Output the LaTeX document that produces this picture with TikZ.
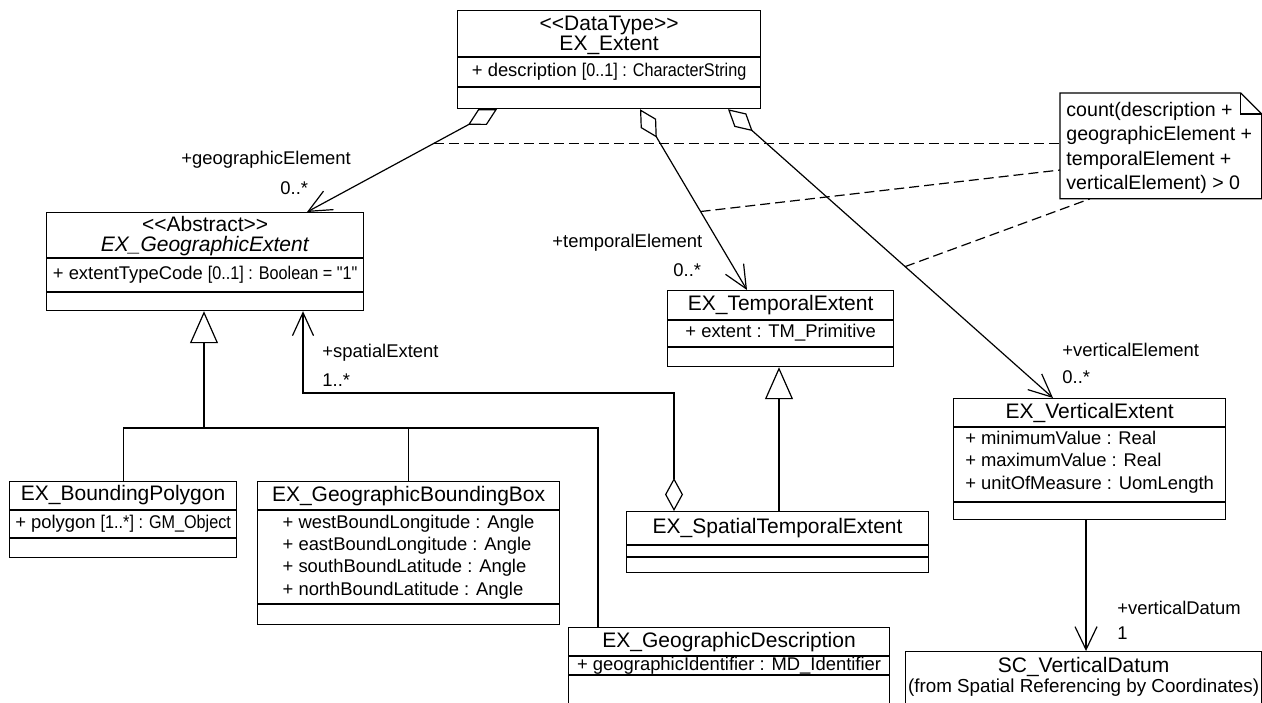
\documentclass[tikz,border=0pt]{standalone}
\usepackage{fontspec}
\usepackage{graphicx}
\newfontfamily\umlfont{Liberation Sans}
\usetikzlibrary{arrows.meta,calc}

\newcommand{\narrowtype}[1]{\scalebox{0.88}[1]{#1}}

\tikzset{
  classbox/.style = {draw, line width=0.6pt, inner sep=0pt, anchor=north west},
  classname/.style = {font=\umlfont\fontsize{10.5}{10}\selectfont, inner sep=0pt, align=center},
  attrs/.style = {font=\umlfont\fontsize{9.2}{11.2}\selectfont, inner sep=0pt, align=left},
  role/.style = {font=\umlfont\fontsize{9.2}{11}\selectfont, inner sep=0pt, anchor=west},
  notetext/.style = {font=\umlfont\fontsize{9.8}{12.2}\selectfont, inner sep=0pt, align=left, anchor=west},
  divider/.style = {line width=0.6pt},
  assoc/.style = {line width=0.6pt, {Diamond[open,length=16.5pt,width=9pt]}-{Straight Barb[length=11.5pt,width=10.5pt]}},
  nav/.style = {line width=0.6pt, -{Straight Barb[length=11.5pt,width=11pt]}},
  inherit/.style = {line width=0.6pt, -{Triangle[open,length=16pt,width=14pt]}},
  link/.style = {line width=0.6pt},
  constraint/.style = {line width=0.6pt, dash pattern=on 5pt off 2.5pt},
}

\begin{document}
\begin{tikzpicture}[x=0.5pt, y=-0.5pt]
  \useasboundingbox (0,0) rectangle (1262,702);
  \clip (0,0) rectangle (1262,702);

  % EX_Extent
  \node[classbox, minimum width=151.5pt, minimum height=49pt] (extent) at (457,10) {};
  \draw[divider] ($(extent.north west)+(0,47)$) -- ($(extent.north east)+(0,47)$);
  \draw[divider] ($(extent.north west)+(0,77)$) -- ($(extent.north east)+(0,77)$);
  \node[classname] (extentname) at ($(extent.north)+(0,25)$) {<<DataType>>\\EX\_Extent};
  \node[attrs] (extentattr) at ($(extent.north)+(0,62)$) {+ description \narrowtype{[0..1] : CharacterString}};

  % EX_GeographicExtent
  \node[classbox, minimum width=158.5pt, minimum height=49pt] (geo) at (46,212) {};
  \draw[divider] ($(geo.north west)+(0,46)$) -- ($(geo.north east)+(0,46)$);
  \draw[divider] ($(geo.north west)+(0,80)$) -- ($(geo.north east)+(0,80)$);
  \node[classname] (geoname) at ($(geo.north)+(0,24)$) {<<Abstract>>\\\textit{EX\_GeographicExtent}};
  \node[attrs] (geoattr) at ($(geo.north)+(0,63)$) {+ extentTypeCode \narrowtype{[0..1] : Boolean = "1"}};

  % EX_TemporalExtent
  \node[classbox, minimum width=113pt, minimum height=38pt] (temp) at (667,290) {};
  \draw[divider] ($(temp.north west)+(0,30)$) -- ($(temp.north east)+(0,30)$);
  \draw[divider] ($(temp.north west)+(0,57)$) -- ($(temp.north east)+(0,57)$);
  \node[classname] (tempname) at ($(temp.north)+(0,15)$) {EX\_TemporalExtent};
  \node[attrs] (tempattr) at ($(temp.north)+(0,43)$) {+ extent : TM\_Primitive};

  % EX_VerticalExtent
  \node[classbox, minimum width=136pt, minimum height=60.5pt] (vert) at (953,398) {};
  \draw[divider] ($(vert.north west)+(0,29)$) -- ($(vert.north east)+(0,29)$);
  \draw[divider] ($(vert.north west)+(0,104)$) -- ($(vert.north east)+(0,104)$);
  \node[classname] (vertname) at ($(vert.north)+(0,15)$) {EX\_VerticalExtent};
  \node[attrs, font=\umlfont\fontsize{9.2}{11.25}\selectfont] (vertattr) at ($(vert.north)+(0,64)$)
    {+ minimumValue : Real\\+ maximumValue : Real\\+ unitOfMeasure : UomLength};

  % EX_BoundingPolygon
  \node[classbox, minimum width=113.5pt, minimum height=38pt] (poly) at (9,481) {};
  \draw[divider] ($(poly.north west)+(0,29)$) -- ($(poly.north east)+(0,29)$);
  \draw[divider] ($(poly.north west)+(0,57)$) -- ($(poly.north east)+(0,57)$);
  \node[classname] (polyname) at ($(poly.north)+(0,14)$) {EX\_BoundingPolygon};
  \node[attrs] (polyattr) at ($(poly.north)+(0,43)$) {+ polygon \narrowtype{[1..*] : GM\_Object}};

  % EX_GeographicBoundingBox
  \node[classbox, minimum width=151pt, minimum height=71.5pt] (bbox) at (257,481) {};
  \draw[divider] ($(bbox.north west)+(0,29)$) -- ($(bbox.north east)+(0,29)$);
  \draw[divider] ($(bbox.north west)+(0,123)$) -- ($(bbox.north east)+(0,123)$);
  \node[classname] (bboxname) at ($(bbox.north)+(0,15)$) {EX\_GeographicBoundingBox};
  \node[attrs, font=\umlfont\fontsize{9.2}{11.15}\selectfont] (bboxattr) at ($(bbox.north)+(0,76)$)
    {+ westBoundLongitude : Angle\\+ eastBoundLongitude : Angle\\+ southBoundLatitude : Angle\\+ northBoundLatitude : Angle};

  % EX_SpatialTemporalExtent
  \node[classbox, minimum width=151pt, minimum height=30.5pt] (stext) at (626,511) {};
  \draw[divider] ($(stext.north west)+(0,34)$) -- ($(stext.north east)+(0,34)$);
  \draw[divider] ($(stext.north west)+(0,46)$) -- ($(stext.north east)+(0,46)$);
  \node[classname] (stextname) at ($(stext.north)+(0,17)$) {EX\_SpatialTemporalExtent};

  % EX_GeographicDescription
  \node[classbox, minimum width=160.5pt, minimum height=60pt] (desc) at (568,627) {};
  \draw[divider] ($(desc.north west)+(0,29)$) -- ($(desc.north east)+(0,29)$);
  \draw[divider] ($(desc.north west)+(0,48)$) -- ($(desc.north east)+(0,48)$);
  \node[classname] (descname) at ($(desc.north)+(0,15)$) {EX\_GeographicDescription};
  \node[attrs] (descattr) at ($(desc.north)+(0,39)$) {+ geographicIdentifier : MD\_Identifier};

  % SC_VerticalDatum
  \node[classbox, minimum width=178pt, minimum height=55pt] (datum) at (905,651) {};
  \node[classname] (datumname) at ($(datum.north)+(0,16)$) {SC\_VerticalDatum};
  \node[attrs, font=\umlfont\fontsize{9.4}{11}\selectfont] (datumpkg) at ($(datum.north)+(0,37)$)
    {(from Spatial Referencing by Coordinates)};

  % constraint note
  \node[minimum width=100.5pt, minimum height=52.5pt, inner sep=0pt, anchor=north west] (note) at (1060,93) {};
  \draw[link] (note.north west) -- ($(note.north east)+(-21,0)$) -- ($(note.north east)+(0,21)$)
    -- (note.south east) -- (note.south west) -- cycle;
  \draw[link] ($(note.north east)+(-21,0)$) |- ($(note.north east)+(0,21)$);
  \node[notetext] (notebody) at (1066,148)
    {count(description +\\geographicElement +\\temporalElement +\\verticalElement) > 0};

  % associations from EX_Extent
  \coordinate (g1) at ($(extent.south west)+(40,0)$);
  \coordinate (g2) at ($(geo.north west)+(261,0)$);
  \coordinate (t1) at ($(extent.south west)+(183,0)$);
  \coordinate (t2) at ($(temp.north west)+(80,0)$);
  \coordinate (v1) at ($(extent.south west)+(271,0)$);
  \coordinate (v2) at ($(vert.north west)+(100,0)$);
  \draw[assoc] (g1) -- (g2);
  \draw[assoc] (t1) -- (t2);
  \draw[assoc] (v1) -- (v2);
  \node[role] at (181,160) {+geographicElement};
  \node[role] at (280,188) {0..*};
  \node[role] at (552,243) {+temporalElement};
  \node[role] at (673,270) {0..*};
  \node[role] at (1062,350) {+verticalElement};
  \node[role] at (1062,377) {0..*};

  % constraint links
  \coordinate (c1) at ($(g1)!0.33!(g2)$);
  \coordinate (c2) at ($(t1)!0.566!(t2)$);
  \coordinate (c3) at ($(v1)!0.545!(v2)$);
  \draw[constraint] (c1) -- (c1 -| note.west);
  \draw[constraint] (c2) -- ($(note.north west)+(0,77)$);
  \draw[constraint] (c3) -- ($(note.south west)+(30,0)$);

  % generalisation of EX_GeographicExtent
  \coordinate (gfork) at (204,428);
  \coordinate (descjoin) at ($(desc.north west)+(30,0)$);
  \draw[inherit] (gfork) -- (gfork |- geo.south);
  \draw[link] (poly.north) |- (gfork);
  \draw[link] (gfork) -| (descjoin);
  \draw[link] (bbox.north) -- (bbox.north |- gfork);

  % EX_SpatialTemporalExtent
  \draw[inherit] (stext.north -| 779,0) -- (temp.south -| 779,0);
  \coordinate (sjoin) at ($(stext.north west)+(48,0)$);
  \coordinate (sbend) at (303,393);
  \draw[assoc] (sjoin) |- (sbend) -- (sbend |- geo.south);
  \node[role] at (322,353) {+spatialExtent};
  \node[role] at (322,380) {1..*};

  % vertical datum
  \coordinate (vd) at ($(vert.south west)+(133,0)$);
  \draw[nav] (vd) -- (vd |- datum.north);
  \node[role] at (1117,608) {+verticalDatum};
  \node[role] at (1117,633) {1};
\end{tikzpicture}
\end{document}
